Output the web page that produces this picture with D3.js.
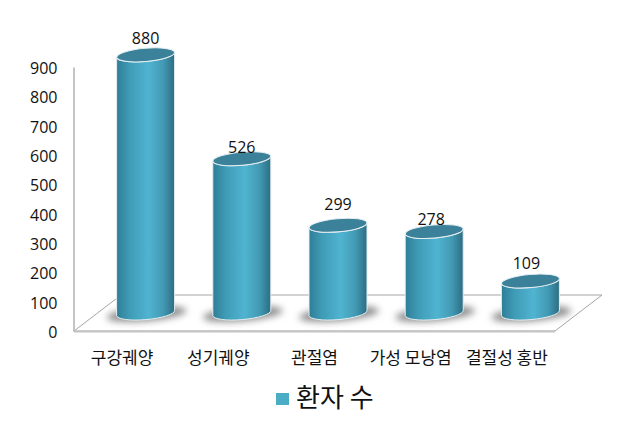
<!DOCTYPE html>
<html>
<head>
<meta charset="utf-8">
<script src="https://cdn.jsdelivr.net/npm/d3@7"></script>
<style>
    html, body { margin: 0; padding: 0; background: #fff; }
    svg { display: block; }
    text { font-family: "Noto Sans CJK KR", "Noto Sans", sans-serif; fill: #111; }
    text.num { font-family: "Open Sans", "Noto Sans", sans-serif; }
</style>
</head>
<body>
<div id="chart"></div>
<script>
const categories = ["구강궤양", "성기궤양", "관절염", "가성 모낭염", "결절성 홍반"];
const patients = [880, 526, 299, 278, 109];
const yTicks = [0, 100, 200, 300, 400, 500, 600, 700, 800, 900];
const seriesName = "환자 수";

// labels sit a little unevenly in the original
const labelLift = [17, 11, 21, 12, 18];
const labelShift = [0, 0, 0, -3, -4];

const width = 643, height = 430;
const plot = { left: 74, right: 555, top: 67, bottom: 331 };
const depth = { x: 47, y: 36 };
const rx = 29, ry = 6.6, tilt = -5;

const svg = d3.select("#chart").append("svg")
    .attr("width", width)
    .attr("height", height);

const defs = svg.append("defs");

const grad = defs.append("linearGradient").attr("id", "cyl");
grad.append("stop").attr("offset", "0%").attr("stop-color", "#2f7d96");
grad.append("stop").attr("offset", "22%").attr("stop-color", "#3f9bb6");
grad.append("stop").attr("offset", "55%").attr("stop-color", "#50b4d1");
grad.append("stop").attr("offset", "80%").attr("stop-color", "#429ab4");
grad.append("stop").attr("offset", "100%").attr("stop-color", "#2c6d83");

defs.append("filter").attr("id", "blur")
    .attr("x", "-30%").attr("y", "-100%").attr("width", "160%").attr("height", "300%")
    .append("feGaussianBlur").attr("stdDeviation", 3.5);

const x = d3.scaleBand().domain(categories).range([plot.left, plot.right]);
const y = d3.scaleLinear().domain([0, 900]).range([plot.bottom, plot.top]);

// floor
const floorPts = [
    [plot.left, plot.bottom],
    [plot.right, plot.bottom],
    [plot.right + depth.x, plot.bottom - depth.y],
    [plot.left + depth.x, plot.bottom - depth.y]
];
svg.append("polygon")
    .attr("points", floorPts.join(" "))
    .attr("fill", "#fff")
    .attr("stroke", "#a6a6a6")
    .attr("stroke-width", 1);
svg.append("line")
    .attr("x1", plot.left).attr("x2", plot.right)
    .attr("y1", plot.bottom + 0.5).attr("y2", plot.bottom + 0.5)
    .attr("stroke", "#c4c4c4")
    .attr("stroke-width", 2);

// y axis
const yAxis = d3.axisLeft(y).tickValues(yTicks).tickSize(0).tickPadding(16);
const yG = svg.append("g")
    .attr("transform", `translate(${plot.left - 0.5},0)`)
    .call(yAxis);
yG.select(".domain").attr("stroke", "#b0b0b0").attr("stroke-width", 1.5);
yG.selectAll("text")
    .attr("class", "num")
    .attr("dy", "0.4em")
    .style("font-size", "16px")
    .attr("fill", "#111");

// cylinders
const cx = d => x(d) + x.bandwidth() / 2 + depth.x / 2;
const baseY = plot.bottom - depth.y / 2;
const dy = rx * Math.sin(-tilt * Math.PI / 180);

const bars = svg.selectAll("g.bar")
    .data(categories.map((c, i) => ({ c, v: patients[i], i })))
    .join("g")
    .attr("class", "bar");

bars.append("ellipse")
    .attr("cx", d => cx(d.c) + 1)
    .attr("cy", baseY + 1)
    .attr("rx", 40)
    .attr("ry", 7)
    .attr("transform", d => `rotate(${tilt},${cx(d.c) + 1},${baseY + 1})`)
    .attr("fill", "#8c8c8c")
    .attr("filter", "url(#blur)");

bars.append("path")
    .attr("d", d => {
        const top = y(d.v) - depth.y / 2;
        const l = cx(d.c) - rx, r = cx(d.c) + rx;
        return `M${l},${top + dy} L${l},${baseY + dy}` +
            ` A${rx},${ry} ${tilt} 0 0 ${r},${baseY - dy}` +
            ` L${r},${top - dy}` +
            ` A${rx},${ry} ${tilt} 0 1 ${l},${top + dy} Z`;
    })
    .attr("fill", "url(#cyl)")
    .attr("stroke", "#e4eef1")
    .attr("stroke-width", 1);

bars.append("ellipse")
    .attr("cx", d => cx(d.c))
    .attr("cy", d => y(d.v) - depth.y / 2)
    .attr("rx", rx)
    .attr("ry", ry)
    .attr("transform", d => `rotate(${tilt},${cx(d.c)},${y(d.v) - depth.y / 2})`)
    .attr("fill", "#3a8199")
    .attr("stroke", "#e6eff2")
    .attr("stroke-width", 1);

bars.append("text")
    .attr("class", "num")
    .attr("x", d => cx(d.c) + labelShift[d.i])
    .attr("y", d => y(d.v) - depth.y / 2 - labelLift[d.i])
    .attr("dy", "0.36em")
    .attr("text-anchor", "middle")
    .style("font-size", "16px")
    .text(d => d.v);

// category labels
svg.selectAll("text.cat")
    .data(categories)
    .join("text")
    .attr("class", "cat")
    .attr("x", d => x(d) + x.bandwidth() / 2)
    .attr("y", 358)
    .attr("dy", "0.36em")
    .attr("text-anchor", "middle")
    .style("font-size", "17px")
    .text(d => d);

// legend
svg.append("rect")
    .attr("x", 276).attr("y", 393)
    .attr("width", 13).attr("height", 12)
    .attr("fill", "#4bacc6");
svg.append("text")
    .attr("x", 296).attr("y", 398)
    .attr("dy", "0.36em")
    .style("font-size", "26px")
    .text(seriesName);
</script>
</body>
</html>
